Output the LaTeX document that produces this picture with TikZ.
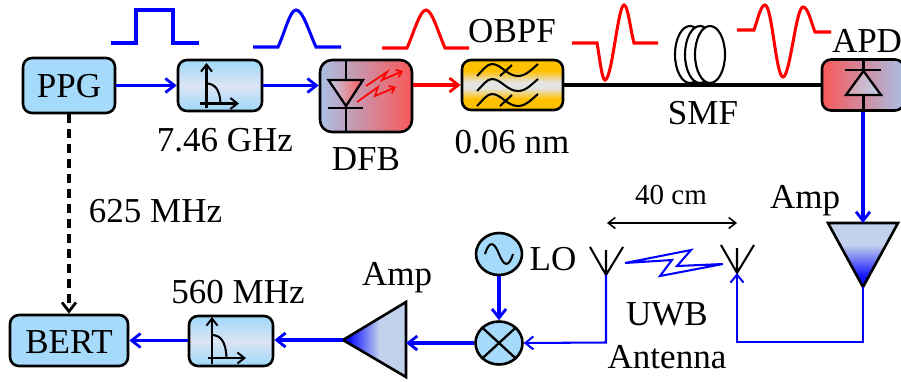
\documentclass[tikz,border=0pt]{standalone}
\usepackage{fontspec}
\setmainfont{Liberation Serif}
\usetikzlibrary{arrows.meta,shapes.geometric}
\definecolor{skyb}{HTML}{A6DAFA}
\definecolor{skyc}{HTML}{DCE4F4}
\definecolor{steel}{HTML}{A9C0E6}
\definecolor{steelb}{HTML}{C2D2EC}
\definecolor{redb}{HTML}{F85858}
\definecolor{midr}{HTML}{D4C2D2}
\definecolor{ambr}{HTML}{FFC000}
\definecolor{pale}{HTML}{E4E4E4}
\definecolor{pureblue}{HTML}{1010FF}
\pgfdeclareverticalshading{filtshade}{100bp}{color(0bp)=(skyb);color(28bp)=(skyb);color(50bp)=(skyc);color(72bp)=(skyb);color(100bp)=(skyb)}
\pgfdeclareverticalshading{obpfshade}{100bp}{color(0bp)=(ambr);color(36bp)=(ambr);color(47bp)=(pale);color(53bp)=(pale);color(64bp)=(ambr);color(100bp)=(ambr)}
\pgfdeclareverticalshading{ampdown}{100bp}{color(0bp)=(pureblue);color(33bp)=(pureblue);color(58bp)=(steelb);color(75bp)=(steelb);color(100bp)=(steelb)}
\pgfdeclarehorizontalshading{ampleft}{100bp}{color(0bp)=(pureblue);color(30bp)=(pureblue);color(54bp)=(steelb);color(100bp)=(steelb)}
\begin{document}
\begin{tikzpicture}[x=1pt,y=-1pt,
  box/.style={draw=black,line width=2.6pt,rounded corners=9pt,inner sep=0pt,align=center},
  plain/.style={box,fill=skyb},
  filt/.style={box,shading=filtshade,minimum width=84pt,minimum height=51pt},
  rf/.style={ellipse,draw=black,line width=2.6pt,fill=skyb,inner sep=0pt},
  amp/.style={draw=black,line width=2.6pt,line join=miter},
  sym/.style={draw=black,line width=2.05pt},
  symarrow/.style={sym,-{Straight Barb[length=7pt,width=11pt,line width=2pt]}},
  sig/.style={draw=blue,line width=3.05pt,-{Straight Barb[length=9pt,width=14pt,line width=2.8pt]}},
  sigthin/.style={draw=blue,line width=2.05pt,-{Straight Barb[length=8pt,width=13pt,line width=2pt]}},
  pulseb/.style={draw=blue,line width=3.05pt},
  pulser/.style={draw=red,line width=3.05pt},
  lab/.style={font=\fontsize{35}{35}\selectfont,anchor=base,inner sep=0pt},
  labs/.style={font=\fontsize{29}{29}\selectfont,anchor=base,inner sep=0pt}]
\useasboundingbox (0,0) rectangle (901,381);

% boxes
\node[plain,minimum width=92pt,minimum height=55pt] (ppg) at (69,85.5) {};
\node[filt] (f1) at (220,85.5) {};
\node[box,left color=steel,middle color=midr,right color=redb,rounded corners=12pt,minimum width=92pt,minimum height=72pt] (dfb) at (366,96) {};
\node[box,shading=obpfshade,minimum width=101pt,minimum height=50pt] (obpf) at (512.5,85) {};
\node[box,left color=redb,middle color=midr,right color=steel,minimum width=82pt,minimum height=51pt] (apd) at (863,85) {};
\node[plain,minimum width=118pt,minimum height=51pt] (bert) at (69,340.5) {};
\node[filt,minimum height=50pt] (f2) at (231,341) {};
\node[rf,minimum width=46pt,minimum height=42pt] (lo) at (499,254) {};
\node[rf,minimum width=47pt,minimum height=43pt] (mix) at (499,343) {};

% box texts
\node[lab] at (69,97) {PPG};
\node[lab] at (69,353) {BERT};

% amplifiers
\coordinate (ra) at (863,223);
\coordinate (ratip) at (863,287);
\coordinate (la) at (406,340);
\coordinate (latip) at (343,340);
\path[amp,shading=ampdown] (828,223) -- (898,223) -- (ratip) -- cycle;
\path[amp,shading=ampleft] (latip) -- (406,302) -- (406,377) -- cycle;

% antennas
\coordinate (antl) at (606,275);
\coordinate (antr) at (737,273);
\draw[sym] (590,247) -- (antl) -- (623,247) (antl) -- (606,250);
\draw[sym] (721,245) -- (antr) -- (754,245) (antr) -- (737,248);
\draw[draw=blue,line width=2.05pt,line join=miter] (625,263) -- (691,250) -- (677,266) -- (723,264) -- (660,276) -- (672,260) -- cycle;
\coordinate (dl) at (607,223);
\coordinate (dr) at (737,223);
\draw[line width=2.05pt,{Straight Barb[length=7pt,width=11pt,line width=1.6pt]}-{Straight Barb[length=7pt,width=11pt,line width=1.6pt]}] (dl) -- (dr);

% fibre
\draw[black,line width=3.05pt] (obpf.east) -- (obpf.east -| apd.west);

% coil
\foreach \cx in {690,700,710}
  \draw[black,line width=2.1pt,fill=white] (\cx,54.5) ellipse (15 and 28.5);

% connectors
\draw[sig] (ppg.east) -- (f1.west);
\draw[sig] (f1.east) -- (f1.east -| dfb.west);
\draw[draw=red,line width=3.05pt,-{Straight Barb[length=9pt,width=14pt,line width=2.8pt]}] (dfb.east |- obpf.west) -- (obpf.west);
\draw[black,line width=3.05pt,dash pattern=on 9pt off 6pt,-{Straight Barb[length=9pt,width=14pt,line width=2.8pt]}] (ppg.south) -- (bert.north);
\draw[sig] (apd.south) -- (ra);
\draw[sigthin] (ratip) -- (863,342) -- (737,342) -- (antr);
\draw[sigthin] (antl) -- (606,342.5) -- (mix.east);
\draw[sig] (lo.south) -- (mix.north);
\draw[sig] (mix.west) -- (406,343);
\draw[sig] (latip) -- (f2.east |- latip);
\draw[sig] (f2.west |- bert.east) -- (bert.east);

% filter icons
\draw[symarrow] (206.5,108) -- (206.5,63);
\draw[symarrow] (200,103.5) -- (239,103.5);
\draw[sym] (206.5,83.5) .. controls (214,83.5) and (220,89) .. (220.5,103.5);
\draw[symarrow] (212,364) -- (212,317);
\draw[symarrow] (208,358) -- (246,358);
\draw[sym] (212,335) .. controls (220,335) and (226,341) .. (226.5,358);

% diode in DFB
\draw[sym] (346,60) -- (346,132);
\path[draw=black,line width=2.3pt,left color=steelb,right color=redb] (328.5,80) -- (363,80) -- (346,106) -- cycle;
\draw[black,line width=2.3pt] (328,108) -- (363,108);
\draw[red,line width=1.7pt,-{Straight Barb[length=5pt,width=8pt,line width=1.7pt]}] (366,86) -- (387,72) -- (382,80) -- (403,71);
\draw[red,line width=1.7pt,-{Straight Barb[length=5pt,width=8pt,line width=1.7pt]}] (357,102) -- (378,87) -- (375,96) -- (396,87);

% OBPF icon
\foreach \d in {0,15,30}{
  \draw[sym] (477,76+\d) .. controls (483,70+\d) and (487,64+\d) .. (492,64+\d) .. controls (501,64+\d) and (507,76+\d) .. (518,76+\d) .. controls (526,76+\d) and (532,69+\d) .. (538,64+\d);
}
\draw[sym] (500,76) -- (512,65) (500,106) -- (512,95);

% apd diode
\draw[black,line width=2.3pt] (845,70) -- (881,70);
\path[draw=black,line width=2.3pt,left color=redb!40!steelb,right color=steelb] (846,95) -- (881,95) -- (863.5,71) -- cycle;
\draw[black,line width=3.05pt] (863.5,60) -- (863.5,71) (863.5,95) -- (863.5,110);

% LO and mixer symbols
\draw[sym] (485,254) .. controls (490,238) and (495,244) .. (499,254) .. controls (503,264) and (508,270) .. (513,254);
\draw[black,line width=2.3pt] (mix.north west) -- (mix.south east) (mix.north east) -- (mix.south west);

% waveforms
\draw[pulseb,line join=miter] (111,43) -- (136,43) -- (136,10) -- (173,10) -- (173,43) -- (199,43);
\draw[pulseb] (253,47) -- (278,47) .. controls (285,32) and (290,10) .. (296,10) .. controls (303,10) and (309,32) .. (316,47) -- (341,47);
\draw[pulser] (382,48) -- (407,48) .. controls (414,32) and (420,10) .. (426,10) .. controls (432,10) and (438,32) .. (445,48) -- (469,48);
\draw[pulser] (572,43) -- (597,43) .. controls (600,60) and (602,80) .. (605,80) .. controls (612,80) and (618,5) .. (624,5) .. controls (628,5) and (630,28) .. (634,43) -- (658,43);
\draw[pulser] (737,30) -- (754,30) .. controls (758,18) and (761,5) .. (765,5) .. controls (772,5) and (776,77) .. (783,77) .. controls (790,77) and (796,7) .. (803,7) .. controls (808,7) and (811,22) .. (815,32) -- (831,32);

% labels
\node[lab] at (225,151) {7.46 GHz};
\node[lab] at (366,170) {DFB};
\node[lab] at (512,42) {OBPF};
\node[lab] at (512,153) {0.06 nm};
\node[lab] at (703,124) {SMF};
\node[lab] at (867,52) {APD};
\node[lab] at (155.5,222) {625 MHz};
\node[lab] at (238,303) {560 MHz};
\node[lab] at (397,285) {Amp};
\node[lab] at (805,208) {Amp};
\node[lab] at (553,270) {LO};
\node[lab] at (667,325) {UWB};
\node[lab] at (667,368) {Antenna};
\node[labs] at (671,204) {40 cm};
\end{tikzpicture}
\end{document}
